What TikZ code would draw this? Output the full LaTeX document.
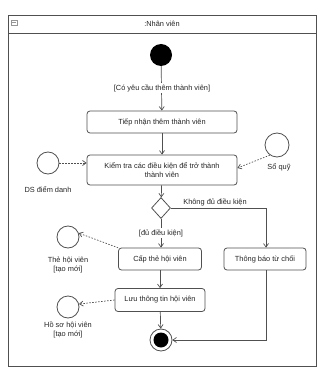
\documentclass[tikz,border=0pt]{standalone}
\usepackage{fontspec}
\setmainfont{Liberation Sans}
\usetikzlibrary{arrows.meta,shapes.geometric,calc}
\definecolor{ln}{HTML}{505050}
\tikzset{
  every node/.style={font=\fontsize{7.4}{8.6}\selectfont, text=black!85},
  act/.style={draw=ln, line width=0.8pt, rounded corners=3pt, fill=white, align=center, inner sep=1pt},
  obj/.style={draw=ln, line width=0.8pt, circle, fill=white, minimum size=22pt, inner sep=0pt},
  flow/.style={draw=ln, line width=0.7pt, -{Straight Barb[length=3.5pt,width=5pt]}},
  dflow/.style={draw=ln, line width=0.7pt, dash pattern=on 1.5pt off 1.5pt, -{Straight Barb[length=3.5pt,width=5pt]}},
  guard/.style={fill=white, inner sep=1pt},
  lbl/.style={align=center, inner sep=0pt}
}
\begin{document}
\begin{tikzpicture}[x=1pt,y=-1pt]
\useasboundingbox (0,0) rectangle (324,374);
% frame
\draw[ln, line width=0.8pt] (8,15) rectangle (316,366);
\draw[ln, line width=0.8pt] (8,33) -- (316,33);
\node (title) at (162,24) {:Nhân viên};
\draw[ln!60, line width=0.5pt] (11,20) rectangle (17,25);
\draw[ln!60, line width=0.5pt] (12,22.5) -- (16,22.5);
% start
\node[circle, fill=black, minimum size=22pt, inner sep=0pt] (start) at (161,55) {};
% activities
\node[act, minimum width=150pt, minimum height=22pt] (tiep) at (162,122) {Tiếp nhận thêm thành viên};
\node[act, minimum width=150pt, minimum height=30pt] (kiem) at (162,170) {Kiểm tra các điều kiện để trở thành\\thành viên};
\node[draw=ln, line width=0.8pt, diamond, fill=white, minimum width=19pt, minimum height=21pt, inner sep=0pt] (dec) at (161,208) {};
\node[act, minimum width=83pt, minimum height=22pt] (cap) at (160,259) {Cấp thẻ hội viên};
\node[act, minimum width=82pt, minimum height=22pt] (tb) at (265,259) {Thông báo từ chối};
\node[act, minimum width=90pt, minimum height=23pt] (luu) at (160,300) {Lưu thông tin hội viên};
% final
\node[circle, draw=ln, line width=0.8pt, fill=white, minimum size=22pt, inner sep=0pt] (fin) at (161,340) {};
\node[circle, fill=black, minimum size=15pt, inner sep=0pt] (finin) at (161,340) {};
% objects
\node[obj] (ds) at (48,163) {};
\node[lbl] (dsl) at (48,190) {DS điểm danh};
\node[obj, minimum size=24pt] (sq) at (277,145) {};
\node[lbl] (sql) at (279,167) {Sổ quỹ};
\node[obj] (the) at (68,237) {};
\node[lbl] (thel) at (68,265) {Thẻ hội viên\\{[}tạo mới{]}};
\node[obj] (hs) at (68,307) {};
\node[lbl] (hsl) at (68,330) {Hồ sơ hội viên\\{[}tạo mới{]}};
% flows
\draw[flow] (start) -- (tiep);
\node[guard] (g1) at (162,88) {[Có yêu cầu thêm thành viên]};
\draw[flow] (tiep) -- (kiem);
\draw[flow] (kiem) -- (dec);
\draw[flow] (dec.south) -- (cap.north -| dec.south);
\node[guard] (g2) at (161,233) {[đủ điều kiện]};
\coordinate (c1) at (266,208);
\draw[flow] (dec.east) -- (c1) -- (c1 |- tb.north);
\node[anchor=south] (g3) at (215,210) {Không đủ điều kiện};
\draw[flow] (cap) -- (luu);
\draw[flow] (luu) -- (fin);
\coordinate (c2) at (266,340);
\draw[flow] (c1 |- tb.south) -- (c2) -- (fin.east);
% object flows
\draw[dflow] (ds.east) -- (kiem.west |- ds.east);
\draw[dflow] (sq.235) -- ($(kiem.east)+(0,-2)$);
\draw[dflow] (cap.165) -- (the.20);
\draw[dflow] (luu.west) -- (hs.15);
\end{tikzpicture}
\end{document}
